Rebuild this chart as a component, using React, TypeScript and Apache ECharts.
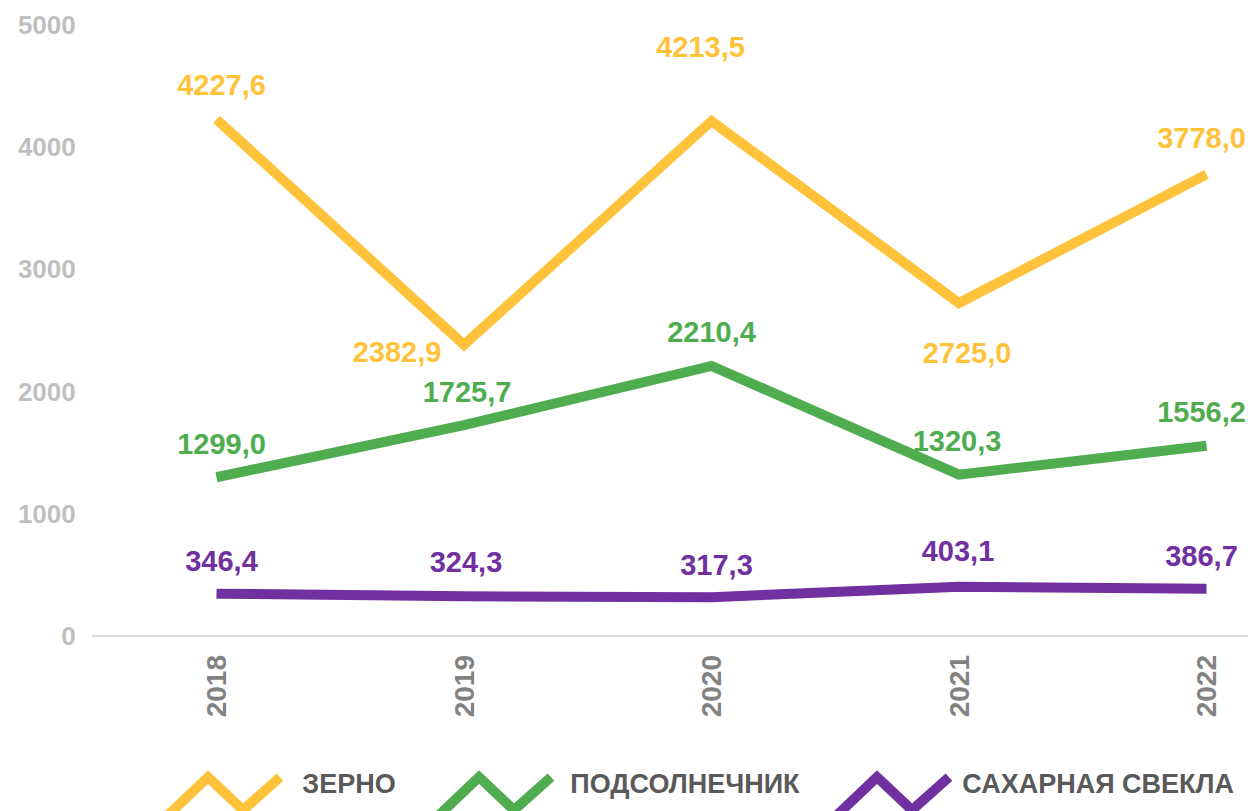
import React, { useEffect, useRef } from "react";
import * as echarts from "echarts";

const years = ["2018", "2019", "2020", "2021", "2022"];
const grain = [4227.6, 2382.9, 4213.5, 2725.0, 3778.0];
const sunflower = [1299.0, 1725.7, 2210.4, 1320.3, 1556.2];
const sugarBeet = [346.4, 324.3, 317.3, 403.1, 386.7];
const seriesNames = ["ЗЕРНО", "ПОДСОЛНЕЧНИК", "САХАРНАЯ СВЕКЛА"];
const colors = ["#FFC33B", "#4FAD4F", "#7030A0"];

const FONT = "'Liberation Sans', Arial, sans-serif";

// label offsets (style): [seriesIndex][pointIndex] -> [dx, dy] relative to the point, label centred
const labelOffsets: number[][][] = [
  [[5, -34], [-67, 7], [-11, -74], [8, 50], [-5, -36]],
  [[5, -33], [3, -33], [0, -34], [-2, -34], [-5, -34]],
  [[5, -33], [2, -34], [5, -32], [-1, -36], [-5, -33]],
];

function thickIcon(pts: number[][], w: number) {
  const h = w / 2;
  const segN = (a: number[], b: number[]) => {
    const dx = b[0] - a[0], dy = b[1] - a[1];
    const L = Math.hypot(dx, dy);
    return [-dy / L, dx / L];
  };
  const left: number[][] = [];
  const right: number[][] = [];
  const n = pts.length;
  for (let i = 0; i < n; i++) {
    const p = pts[i];
    let nx: number, ny: number;
    if (i === 0) [nx, ny] = segN(pts[0], pts[1]);
    else if (i === n - 1) [nx, ny] = segN(pts[n - 2], pts[n - 1]);
    else {
      const a = segN(pts[i - 1], pts[i]);
      const b = segN(pts[i], pts[i + 1]);
      let mx = a[0] + b[0], my = a[1] + b[1];
      const ml = Math.hypot(mx, my);
      mx /= ml; my /= ml;
      const c = mx * a[0] + my * a[1];
      nx = mx / c; ny = my / c;
    }
    left.push([p[0] + nx * h, p[1] + ny * h]);
    right.push([p[0] - nx * h, p[1] - ny * h]);
  }
  const poly = left.concat(right.reverse());
  const minX = Math.min(...poly.map((q) => q[0]));
  const minY = Math.min(...poly.map((q) => q[1]));
  const maxX = Math.max(...poly.map((q) => q[0]));
  const maxY = Math.max(...poly.map((q) => q[1]));
  const d =
    "path://" +
    poly
      .map((q, i) => (i === 0 ? "M" : "L") + (q[0] - minX).toFixed(2) + " " + (q[1] - minY).toFixed(2))
      .join(" ") +
    " Z";
  return { d, width: maxX - minX, height: maxY - minY, peakX: 40 - minX };
}

export default function App() {
  const ref = useRef<HTMLDivElement>(null);
  useEffect(() => {
    if (!ref.current) return;
    const chart = echarts.init(ref.current, null, { renderer: "svg" });
    const icon = thickIcon([[0, 45], [40, 7], [75, 40], [112, 7]], 10);
    const peaks = [208, 479, 877];
    const textPads = [14, 11, 5];
    const allData = [grain, sunflower, sugarBeet];

    const series = allData.map((vals, si) => ({
      name: seriesNames[si],
      type: "line",
      data: vals.map((v, i) => ({
        value: v,
        label: { offset: labelOffsets[si][i] },
      })),
      symbol: "circle",
      symbolSize: 1,
      showSymbol: true,
      itemStyle: { color: "rgba(0,0,0,0)" },
      lineStyle: { color: colors[si], width: 10, join: "miter", cap: "butt" },
      label: {
        show: true,
        position: "inside",
        color: colors[si],
        fontSize: 29,
        fontWeight: "bold",
        fontFamily: FONT,
        formatter: (p: any) => Number(p.value).toFixed(1).replace(".", ","),
      },
      emphasis: { disabled: true },
      z: 2 + si,
    }));

    const legends = seriesNames.map((name, si) => ({
      data: [{ name, itemStyle: { color: colors[si], borderWidth: 0, opacity: 1 } }],
      left: peaks[si] - icon.peakX,
      top: 770,
      padding: 0,
      itemWidth: icon.width,
      itemHeight: icon.height,
      icon: icon.d,
      selectedMode: false,
      formatter: (n: string) => n + "\n ",
      textStyle: {
        color: "#595959",
        fontSize: 27,
        lineHeight: 22,
        fontWeight: "bold",
        fontFamily: FONT,
        padding: [0, 0, 0, textPads[si]],
      },
    }));

    chart.setOption({
      animation: false,
      grid: { left: 92.75, top: 25, width: 1237.5, height: 611, outerBoundsMode: "none", containLabel: false },
      legend: legends,
      xAxis: {
        type: "category",
        data: years,
        boundaryGap: true,
        axisLine: { show: true, lineStyle: { color: "#D9D9D9", width: 2 } },
        axisTick: { show: false },
        axisLabel: {
          rotate: 90,
          margin: 19,
          color: "#828282",
          fontSize: 28,
          fontWeight: "bold",
          fontFamily: FONT,
        },
      },
      yAxis: {
        type: "value",
        min: 0,
        max: 5000,
        interval: 1000,
        axisLine: { show: false },
        axisTick: { show: false },
        splitLine: { show: false },
        axisLabel: {
          margin: 17,
          color: "#BFBFBF",
          fontSize: 26,
          fontWeight: "bold",
          fontFamily: FONT,
          formatter: (v: number) => String(v),
        },
      },
      series,
    });
    return () => chart.dispose();
  }, []);
  return (
    <div
      ref={ref}
      style={{ position: "absolute", left: 0, top: 0, width: 1248, height: 811 }}
    />
  );
}
